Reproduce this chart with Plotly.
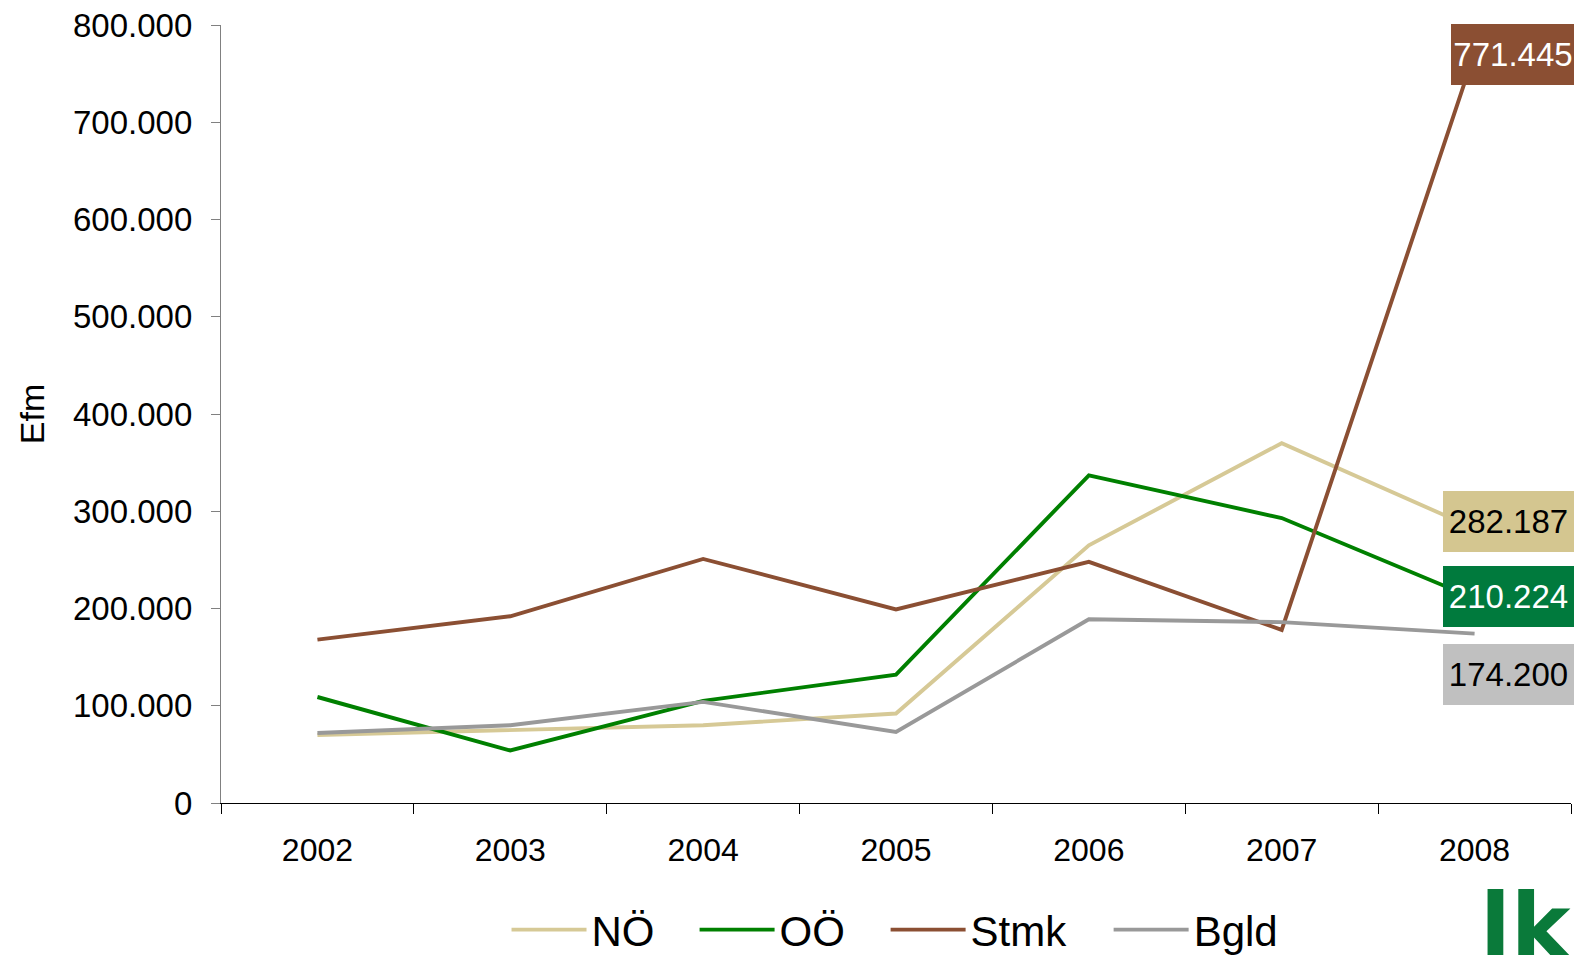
import plotly.graph_objects as go

years = ["2002", "2003", "2004", "2005", "2006", "2007", "2008"]
series_names = ["NÖ", "OÖ", "Stmk", "Bgld"]
noe = [70000, 75000, 80000, 92000, 265000, 370000, 282187]
ooe = [109000, 54000, 105000, 132000, 337000, 293000, 210224]
stmk = [168000, 192000, 251000, 199000, 248000, 178000, 771445]
bgld = [72000, 80000, 104000, 73000, 189000, 186000, 174200]
y_ticks = [0, 100000, 200000, 300000, 400000, 500000, 600000, 700000, 800000]

line_colors = ["#D6C996", "#008000", "#8B4F33", "#999999"]
box_colors = ["#D4C690", "#007A3D", "#8B4F33", "#C0C0C0"]
box_text_colors = ["#000000", "#FFFFFF", "#FFFFFF", "#000000"]
# label box offsets (px) relative to the last point
box_shift = [(34, 7, 131), (34, 2, 131), (38, -2, 124), (34, -41, 131)]
# legend entry positions (paper x)
legend_x = [0.2115, 0.3508, 0.4923, 0.6575]
legend_ids = ["legend", "legend2", "legend3", "legend4"]

FONT = "Arial, 'Liberation Sans', sans-serif"
all_values = [noe, ooe, stmk, bgld]

fig = go.Figure()
for name, vals, col, lid in zip(series_names, all_values, line_colors, legend_ids):
    fig.add_trace(go.Scatter(
        x=years, y=vals, name=name, mode="lines",
        line=dict(color=col, width=3.9),
        legend=lid,
    ))

def fmt(v):
    return f"{v:,.0f}".replace(",", ".")

last_idx = len(years) - 1
annotations = []
for vals, bc, tc, (dx, dy, w) in zip(all_values, box_colors, box_text_colors, box_shift):
    annotations.append(dict(
        x=last_idx, y=vals[-1], xref="x", yref="y",
        text=fmt(vals[-1]), showarrow=False,
        xanchor="center", yanchor="middle",
        xshift=dx, yshift=dy,
        width=w, height=61, borderpad=0, borderwidth=0,
        bgcolor=bc, font=dict(family=FONT, size=33, color=tc),
    ))

# logo text
annotations.append(dict(
    x=1.0, y=0.0, xref="paper", yref="paper",
    text="<b>lk</b>", showarrow=False,
    xanchor="right", yanchor="top",
    xshift=4, yshift=-69,
    font=dict(family="'DejaVu Sans', sans-serif", size=90, color="#0A7A3A"),
))

legend_common = dict(
    orientation="h", xanchor="left", y=-0.163, yanchor="middle",
    font=dict(family=FONT, size=42, color="#000000"),
    itemwidth=75, bgcolor="rgba(0,0,0,0)",
)
layout_legends = {}
for lid, lx in zip(legend_ids, legend_x):
    layout_legends[lid] = dict(legend_common, x=lx)

fig.update_layout(
    width=1582, height=955,
    margin=dict(l=213, r=19, t=17, b=160, autoexpand=False),
    paper_bgcolor="white", plot_bgcolor="white",
    separators=",.",
    font=dict(family=FONT, size=33, color="#000000"),
    showlegend=True,
    annotations=annotations,
    **layout_legends,
)
fig.update_xaxes(
    type="category", range=[-0.5, 6.5], automargin=False,
    showline=True, linecolor="#000000", linewidth=1.3,
    ticks="outside", tickson="boundaries", ticklen=10, tickcolor="#000000",
    ticklabelstandoff=18, ticklabeloverflow="allow",
    showgrid=False, zeroline=False,
    tickfont=dict(family=FONT, size=32),
)
fig.update_yaxes(
    range=[0, 800000], tickvals=y_ticks, tickformat=",.0f", automargin=False,
    showline=True, linecolor="#808080", linewidth=1.3,
    ticks="outside", ticklen=9, tickcolor="#808080",
    ticklabelstandoff=12, ticklabeloverflow="allow",
    showgrid=False, zeroline=False,
    tickfont=dict(family=FONT, size=33),
    title=dict(text="Efm", font=dict(family=FONT, size=34), standoff=18),
)

fig.write_html("out.html")
